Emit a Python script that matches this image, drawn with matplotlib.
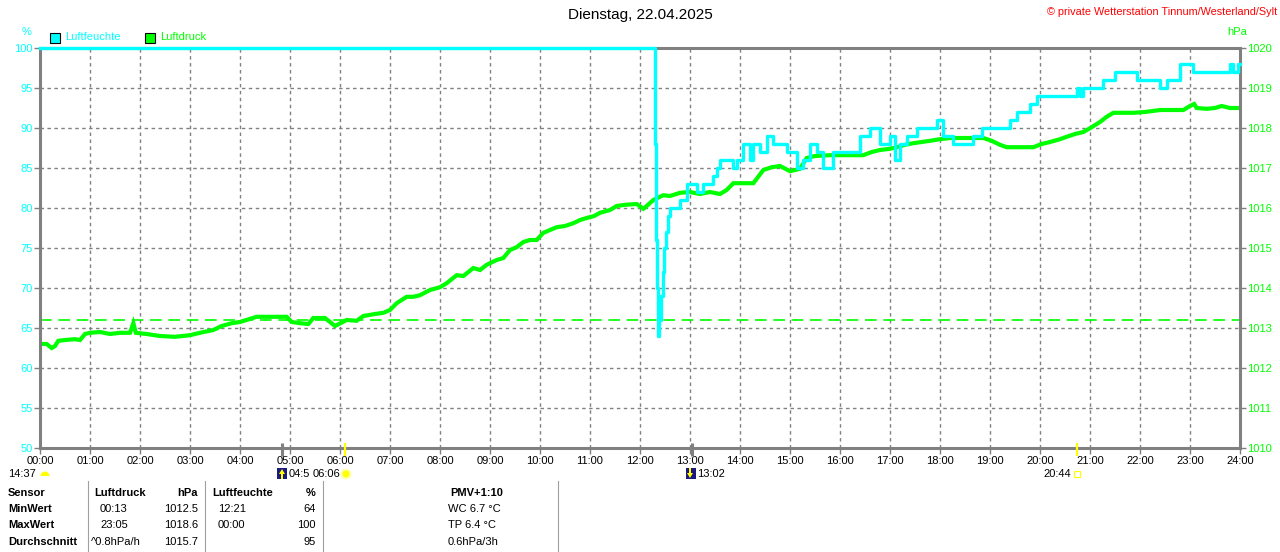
import matplotlib
matplotlib.use('Agg')

import matplotlib.pyplot as plt
from matplotlib.patches import Rectangle, Circle, Wedge, Polygon
from matplotlib.transforms import blended_transform_factory

plt.rcParams['font.family'] = ['Liberation Sans', 'DejaVu Sans']

CYAN = '#00ffff'
GREEN = '#00ff00'
GRAY = '#808080'

# Luftdruck (hPa), Zeit in Minuten seit Mitternacht
druck_min = [0, 8, 14, 18, 22, 30, 42, 48, 54, 60, 72, 84, 96, 108, 112, 115, 128, 144, 162, 180,
             192, 208, 218, 230, 240, 260, 276, 296, 302, 312, 322, 328, 342, 354, 368, 380, 388, 402,
             412, 420, 428, 440, 448, 456, 468, 480, 488, 500, 508, 520, 528, 536, 548, 556, 564, 572,
             580, 588, 596, 604, 612, 620, 630, 640, 648, 656, 665, 672, 684, 692, 702, 716, 724, 728,
             736, 748, 756, 768, 780, 792, 804, 816, 824, 832, 844, 856, 868, 878, 888, 900, 912, 920,
             930, 948, 966, 988, 998, 1008, 1020, 1028, 1038, 1048, 1058, 1068, 1080, 1092, 1104, 1116,
             1132, 1142, 1152, 1160, 1170, 1182, 1192, 1202, 1212, 1224, 1232, 1242, 1252, 1262, 1272,
             1280, 1288, 1302, 1312, 1326, 1344, 1362, 1372, 1380, 1385, 1388, 1400, 1410, 1418, 1428, 1438]
druck_hpa = [1012.6, 1012.6, 1012.5, 1012.55, 1012.68, 1012.7, 1012.72, 1012.7, 1012.85, 1012.88,
             1012.9, 1012.85, 1012.88, 1012.88, 1013.12, 1012.88, 1012.85, 1012.8, 1012.78, 1012.82,
             1012.88, 1012.95, 1013.05, 1013.12, 1013.15, 1013.28, 1013.28, 1013.28, 1013.15, 1013.12,
             1013.1, 1013.25, 1013.25, 1013.05, 1013.2, 1013.18, 1013.3, 1013.35, 1013.38, 1013.45,
             1013.62, 1013.78, 1013.78, 1013.82, 1013.95, 1014.02, 1014.12, 1014.32, 1014.3, 1014.5,
             1014.45, 1014.58, 1014.7, 1014.75, 1014.95, 1015.02, 1015.15, 1015.2, 1015.2, 1015.38,
             1015.45, 1015.52, 1015.55, 1015.62, 1015.7, 1015.75, 1015.8, 1015.88, 1015.95, 1016.05,
             1016.08, 1016.1, 1015.98, 1016.05, 1016.2, 1016.32, 1016.3, 1016.38, 1016.4, 1016.35,
             1016.4, 1016.35, 1016.45, 1016.62, 1016.62, 1016.62, 1016.95, 1017.02, 1017.05, 1016.92,
             1016.98, 1017.25, 1017.3, 1017.32, 1017.32, 1017.32, 1017.4, 1017.45, 1017.48, 1017.52,
             1017.58, 1017.62, 1017.65, 1017.68, 1017.72, 1017.75, 1017.75, 1017.75, 1017.75, 1017.68,
             1017.58, 1017.52, 1017.52, 1017.52, 1017.52, 1017.6, 1017.65, 1017.72, 1017.78, 1017.85,
             1017.9, 1018.02, 1018.15, 1018.28, 1018.38, 1018.38, 1018.38, 1018.4, 1018.45, 1018.45,
             1018.45, 1018.55, 1018.6, 1018.5, 1018.48, 1018.5, 1018.55, 1018.5, 1018.5]

# Luftfeuchte (%), Zeit in Minuten seit Mitternacht
feuchte_min = [0, 738, 739, 740, 741, 743, 745, 747, 749, 751, 753, 756, 764, 768, 776, 784, 788, 796,
               808, 812, 816, 824, 832, 836, 844, 852, 856, 864, 872, 880, 884, 896, 908, 916, 924, 932,
               940, 952, 972, 984, 996, 1008, 1020, 1026, 1032, 1040, 1052, 1072, 1076, 1084, 1096, 1120,
               1130, 1164, 1172, 1176, 1188, 1196, 1208, 1244, 1248, 1252, 1276, 1290, 1316, 1344, 1352,
               1368, 1376, 1384, 1428, 1432, 1438, 1440]
feuchte_pct = [100, 88, 76, 70, 64, 66, 69, 72, 75, 77, 79, 80, 80, 81, 83, 83, 82, 83, 84, 85, 86, 86,
               85, 86, 88, 86, 88, 87, 89, 88, 88, 87, 85, 86, 88, 87, 85, 87, 87, 89, 90, 88, 89, 86, 88,
               89, 90, 90, 91, 89, 88, 89, 90, 91, 92, 92, 93, 94, 94, 95, 94, 95, 96, 97, 96, 95, 96, 98,
               98, 97, 98, 97, 98, 98]

druck_mittel_linie = 1013.2

stunden = list(range(0, 25))
stunden_labels = ['%02d:00' % h for h in stunden]
feuchte_ticks = [50, 55, 60, 65, 70, 75, 80, 85, 90, 95, 100]
druck_ticks = [1010, 1011, 1012, 1013, 1014, 1015, 1016, 1017, 1018, 1019, 1020]

mond_zeiten = [4 + 50 / 60.0, 13 + 2 / 60.0]
sonne_zeiten = [6 + 6 / 60.0, 20 + 44 / 60.0]

W, H = 1280, 552
fig = plt.figure(figsize=(W / 100.0, H / 100.0), dpi=100)


def fx(x):
    return x / float(W)


def fy(y):
    return 1 - y / float(H)


ax_p = fig.add_axes([fx(40), fy(448), fx(1200), 400.0 / H])
ax_h = ax_p.twinx()

# Druck (rechte Achse)
ax_p.plot([m / 60.0 for m in druck_min], druck_hpa, color=GREEN, lw=3.0, zorder=2,
          solid_joinstyle='miter')
ax_p.axhline(druck_mittel_linie, color=GREEN, lw=1.2, dashes=(7, 4), zorder=1.8)
ax_p.set_ylim(1010, 1020)
ax_p.set_xlim(0, 24)
ax_p.set_yticks(druck_ticks)
ax_p.set_yticklabels([str(t) for t in druck_ticks])
ax_p.yaxis.tick_right()
ax_p.set_xticks(stunden)
ax_p.set_xticklabels(stunden_labels)
ax_p.grid(True, color=GRAY, lw=1.0, dashes=(2.5, 2.5))
ax_p.tick_params(axis='y', colors=GRAY, labelcolor=GREEN, labelsize=8, length=4, width=1, pad=1)
ax_p.tick_params(axis='x', colors=GRAY, labelcolor='black', labelsize=8, length=4, width=1, pad=2)
for s in ax_p.spines.values():
    s.set_color(GRAY)
    s.set_linewidth(2.2)

# Feuchte (linke Achse)
ax_h.plot([m / 60.0 for m in feuchte_min], feuchte_pct, color=CYAN, lw=2.4, drawstyle='steps-post',
          clip_on=False, zorder=5)
ax_h.set_ylim(50, 100)
ax_h.set_yticks(feuchte_ticks)
ax_h.set_yticklabels([str(t) for t in feuchte_ticks])
ax_h.yaxis.tick_left()
ax_h.tick_params(axis='y', colors=GRAY, labelcolor=CYAN, labelsize=8, length=4, width=1, pad=1)
for s in ax_h.spines.values():
    s.set_visible(False)
ax_h.set_xlim(0, 24)

# Ereignismarken an der Zeitachse
trans = blended_transform_factory(ax_p.transData, ax_p.transAxes)
ax_p.vlines(mond_zeiten, -0.02, 0.012, colors=GRAY, lw=2.2, transform=trans, clip_on=False, zorder=6)
ax_p.vlines(sonne_zeiten, -0.02, 0.012, colors='#ffff00', lw=1.6, transform=trans, clip_on=False, zorder=6)

# Titel und Texte
fig.text(0.5, fy(15), 'Dienstag, 22.04.2025', ha='center', va='center', fontsize=11)
fig.text(fx(1277), fy(12), '\u00a9 private Wetterstation Tinnum/Westerland/Sylt', ha='right',
         va='center', fontsize=7.8, color='red')
fig.text(fx(27), fy(32), '%', ha='center', va='center', fontsize=8, color=CYAN)
fig.text(fx(1237), fy(32), 'hPa', ha='center', va='center', fontsize=8, color=GREEN)

# Legende
pt = fig.dpi_scale_trans


def ip(x, y):
    return (x / 100.0, (H - y) / 100.0)


fig.patches.append(Rectangle(ip(50, 43), 0.10, 0.10, transform=pt, facecolor=CYAN, edgecolor='black', lw=0.8))
fig.text(fx(65), fy(37), 'Luftfeuchte', ha='left', va='center', fontsize=8, color=CYAN)
fig.patches.append(Rectangle(ip(145, 43), 0.10, 0.10, transform=pt, facecolor=GREEN, edgecolor='black', lw=0.8))
fig.text(fx(160), fy(37), 'Luftdruck', ha='left', va='center', fontsize=8, color=GREEN)

# zweite Zeile unter der Zeitachse
fig.text(fx(8), fy(474), '14:37', ha='left', va='center', fontsize=8)
fig.patches.append(Wedge(ip(45, 476), 0.045, 0, 180, transform=pt, facecolor='#ffff00', edgecolor='none'))

fig.patches.append(Rectangle(ip(277, 479), 0.10, 0.11, transform=pt, facecolor='#1a1a80', edgecolor='none'))
fig.patches.append(Polygon([ip(282, 469), ip(279, 474), ip(285, 474)], transform=pt, facecolor='#ffff00'))
fig.patches.append(Rectangle(ip(281, 479), 0.02, 0.06, transform=pt, facecolor='#ffff00', edgecolor='none'))
fig.text(fx(289), fy(474), '04:5', ha='left', va='center', fontsize=8)

fig.text(fx(340), fy(474), '06:06', ha='right', va='center', fontsize=8)
fig.patches.append(Circle(ip(346, 474), 0.055, transform=pt, facecolor='#ffffb0', edgecolor='none'))
fig.patches.append(Circle(ip(346, 474), 0.035, transform=pt, facecolor='#ffff00', edgecolor='none'))

fig.patches.append(Rectangle(ip(686, 479), 0.10, 0.11, transform=pt, facecolor='#1a1a80', edgecolor='none'))
fig.patches.append(Polygon([ip(690, 478), ip(687, 473), ip(693, 473)], transform=pt, facecolor='#ffff00'))
fig.patches.append(Rectangle(ip(689, 473), 0.02, 0.05, transform=pt, facecolor='#ffff00', edgecolor='none'))
fig.text(fx(697), fy(474), '13:02', ha='left', va='center', fontsize=8)

fig.text(fx(1071), fy(474), '20:44', ha='right', va='center', fontsize=8)
fig.patches.append(Rectangle(ip(1074, 477), 0.06, 0.06, transform=pt, facecolor='none', edgecolor='#ffff00', lw=0.8))

# Tabelle
for x in [88, 205, 323, 558]:
    fig.lines.append(plt.Line2D([fx(x), fx(x)], [fy(481), fy(552)], transform=fig.transFigure,
                                color='#a0a0a0', lw=0.8))

rows = [493, 509, 525, 542]
sensor = ['Sensor', 'MinWert', 'MaxWert', 'Durchschnitt']
for y, s in zip(rows, sensor):
    fig.text(fx(8), fy(y), s, ha='left', va='center', fontsize=8, fontweight='bold')

fig.text(fx(94), fy(rows[0]), 'Luftdruck', ha='left', va='center', fontsize=8, fontweight='bold')
fig.text(fx(198), fy(rows[0]), 'hPa', ha='right', va='center', fontsize=8, fontweight='bold')
druck_zeit = ['00:13', '23:05', '^0.8hPa/h']
druck_wert = ['1012.5', '1018.6', '1015.7']
for i, (z, w) in enumerate(zip(druck_zeit, druck_wert)):
    fig.text(fx(100 if i < 2 else 91), fy(rows[i + 1]), z, ha='left', va='center', fontsize=8)
    fig.text(fx(198), fy(rows[i + 1]), w, ha='right', va='center', fontsize=8)

fig.text(fx(212), fy(rows[0]), 'Luftfeuchte', ha='left', va='center', fontsize=8, fontweight='bold')
fig.text(fx(316), fy(rows[0]), '%', ha='right', va='center', fontsize=8, fontweight='bold')
feuchte_zeit = ['12:21', '00:00', '']
feuchte_wert = ['64', '100', '95']
for i, (z, w) in enumerate(zip(feuchte_zeit, feuchte_wert)):
    fig.text(fx(218), fy(rows[i + 1]), z, ha='left', va='center', fontsize=8)
    fig.text(fx(316), fy(rows[i + 1]), w, ha='right', va='center', fontsize=8)

fig.text(fx(477), fy(rows[0]), 'PMV+1:10', ha='center', va='center', fontsize=8, fontweight='bold')
pmv = ['WC 6.7 \u00b0C', 'TP 6.4 \u00b0C', '0.6hPa/3h']
for i, t in enumerate(pmv):
    fig.text(fx(448), fy(rows[i + 1]), t, ha='left', va='center', fontsize=8)

fig.savefig('out.png', dpi=100)
